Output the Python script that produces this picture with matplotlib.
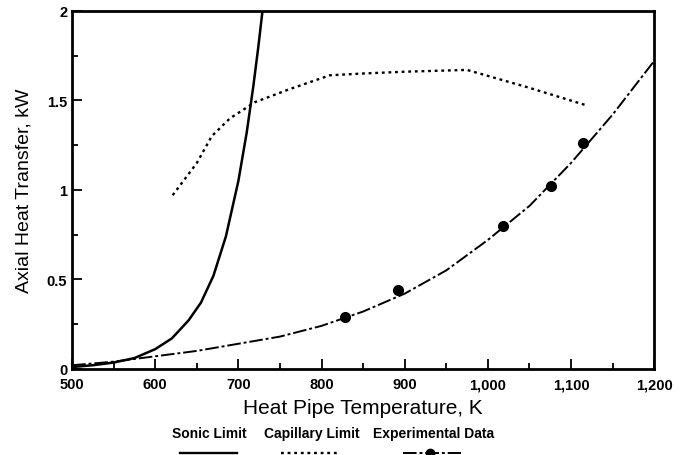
import matplotlib
matplotlib.use("Agg")
import matplotlib.pyplot as plt
from matplotlib.lines import Line2D
from matplotlib.ticker import FuncFormatter, MultipleLocator

plt.rcParams['font.family'] = ['Liberation Sans', 'DejaVu Sans']

# sonic limit (solid)
sonic_T = [500, 525, 550, 575, 600, 620, 640, 655, 670, 685, 700, 710, 718, 724, 729]
sonic_Q = [0.01, 0.02, 0.035, 0.06, 0.11, 0.17, 0.27, 0.37, 0.52, 0.74, 1.05, 1.32, 1.58, 1.80, 2.0]

# capillary limit (dotted)
cap_T = [621, 650, 668, 690, 720, 760, 810, 850, 900, 975, 1050, 1120]
cap_Q = [0.97, 1.15, 1.30, 1.40, 1.49, 1.56, 1.64, 1.65, 1.66, 1.67, 1.57, 1.47]

# curve through experimental data (dash-dot)
fit_T = [500, 550, 600, 650, 700, 750, 800, 850, 900, 950, 1000, 1050, 1100, 1150, 1200]
fit_Q = [0.02, 0.04, 0.07, 0.10, 0.14, 0.18, 0.24, 0.32, 0.42, 0.55, 0.72, 0.91, 1.15, 1.42, 1.72]

# experimental points
exp_T = [828, 892, 1018, 1076, 1115]
exp_Q = [0.29, 0.44, 0.80, 1.02, 1.26]

fig = plt.figure(figsize=(6.8, 4.56), dpi=100)
ax = fig.add_axes([0.106, 0.189, 0.856, 0.785])

ax.plot(sonic_T, sonic_Q, color='black', lw=1.8)
ax.plot(cap_T, cap_Q, color='black', lw=1.7, linestyle=(0, (1.2, 1.6)))
ax.plot(fit_T, fit_Q, color='black', lw=1.4, linestyle=(0, (7, 1.5, 1.5, 1.5)))
ax.plot(exp_T, exp_Q, 'o', color='black', ms=7)

ax.set_xlim(500, 1200)
ax.set_ylim(0, 2)
ax.xaxis.set_major_locator(MultipleLocator(100))
ax.xaxis.set_minor_locator(MultipleLocator(50))
ax.yaxis.set_major_locator(MultipleLocator(0.5))
ax.yaxis.set_minor_locator(MultipleLocator(0.25))
ax.xaxis.set_major_formatter(FuncFormatter(lambda v, p: f"{int(v):,}"))
ax.yaxis.set_major_formatter(FuncFormatter(lambda v, p: f"{v:g}"))
ax.tick_params(which='both', direction='in', width=1.3, labelsize=10.5)
ax.tick_params(which='major', length=7)
ax.tick_params(which='minor', length=4)
ax.tick_params(axis='x', pad=6)
for lbl in ax.get_xticklabels() + ax.get_yticklabels():
    lbl.set_fontweight('bold')
for s in ax.spines.values():
    s.set_linewidth(2)

ax.set_xlabel("Heat Pipe Temperature, K", fontsize=15, labelpad=5)
ax.set_ylabel("Axial Heat Transfer, kW", fontsize=14, labelpad=10)

# legend below the axes: labels with line samples underneath
labels = ["Sonic Limit", "Capillary Limit", "Experimental Data"]
lx = [209 / 680, 312 / 680, 434 / 680]
for x, t in zip(lx, labels):
    fig.text(x, 1 - 434 / 456, t, ha='center', va='center', fontsize=10,
             fontweight='bold')
sy = 1 - 454 / 456
fig.add_artist(Line2D([180 / 680, 237 / 680], [sy, sy], color='black', lw=1.7))
fig.add_artist(Line2D([281 / 680, 337 / 680], [sy, sy], color='black', lw=1.7,
                      linestyle=(0, (1.2, 1.6))))
fig.add_artist(Line2D([403 / 680, 461 / 680], [sy, sy], color='black', lw=1.4,
                      linestyle=(0, (7, 1.5, 1.5, 1.5))))
fig.add_artist(Line2D([430 / 680], [sy], marker='o', color='black', ms=6))

fig.savefig("out.png", dpi=100)
